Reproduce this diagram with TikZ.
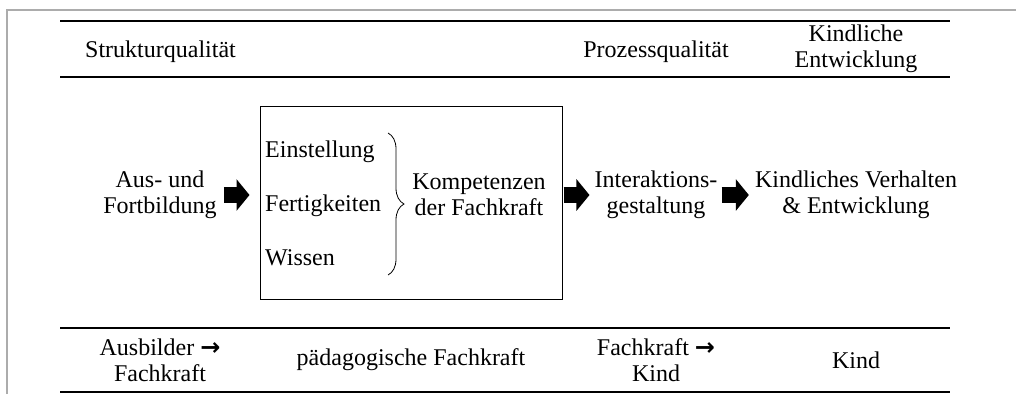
\documentclass[tikz,border=0pt]{standalone}
\usepackage{fontspec}
\setmainfont{Liberation Serif}
\newfontfamily\arrowfont{DejaVu Sans}
\usetikzlibrary{arrows.meta,decorations.pathreplacing}
\tikzset{
  txt/.style={align=center, inner sep=0pt, font=\fontsize{24}{26}\selectfont},
  rule/.style={line width=1.2pt},
  blockarrow/.style={line width=16pt, -{Triangle[length=13pt,width=31pt]}},
}
\newcommand{\pfeil}{{\arrowfont\bfseries →}}

\begin{document}
\begin{tikzpicture}[x=1pt,y=-1pt]
\useasboundingbox (0,0) rectangle (1016,394);
\draw[gray!65, line width=2pt] (7,394) -- (7,10) -- (1016,10);
\draw[rule] (60,21) -- (950,21);
\draw[rule] (60,77) -- (950,77);
\draw[rule] (60,328) -- (950,328);
\draw[rule] (60,392) -- (950,392);
% header
\node[txt, anchor=base west] (struktur) at (85,57) {Strukturqualität};
\node[txt, anchor=base] (prozess) at (656,57) {Prozessqualität};
\node[txt] (entw) at (856,49) {Kindliche\\Entwicklung};
% middle row
\node[txt] (aus) at (160,195) {Aus- und\\Fortbildung};
\node[draw, line width=1pt, minimum width=302pt, minimum height=193pt, inner sep=0pt] (box) at (411,202.5) {};
\node[txt, anchor=base west] (einst) at (265,157) {Einstellung};
\node[txt, anchor=base west] (fert) at (265,211) {Fertigkeiten};
\node[txt, anchor=base west] (wissen) at (265,265) {Wissen};
\draw[line width=0.8pt, decorate, decoration={brace, amplitude=16pt}] (388,133) -- (388,275);
\node[txt] (komp) at (479,195) {Kompetenzen\\der Fachkraft};
\node[txt] (inter) at (656,195) {Interaktions-\\gestaltung};
\node[txt] (kind) at (856,195) {Kindliches Verhalten\\\& Entwicklung};
\draw[blockarrow, shorten <=7pt, shorten >=10pt] (aus.east) -- (aus.east -| box.west);
\draw[blockarrow, shorten <=1pt, shorten >=5pt] (box.east |- inter.west) -- (inter.west);
\draw[blockarrow, shorten <=4pt, shorten >=6pt] (inter.east) -- (kind.west);
% bottom row
\node[txt] (ausbilder) at (160,360) {Ausbilder \pfeil\\Fachkraft};
\node[txt] (fachkraft) at (411,360) {pädagogische Fachkraft};
\node[txt] (fachkind) at (656,360) {Fachkraft \pfeil\\Kind};
\node[txt] (kindunten) at (856,360) {Kind};
\end{tikzpicture}
\end{document}
